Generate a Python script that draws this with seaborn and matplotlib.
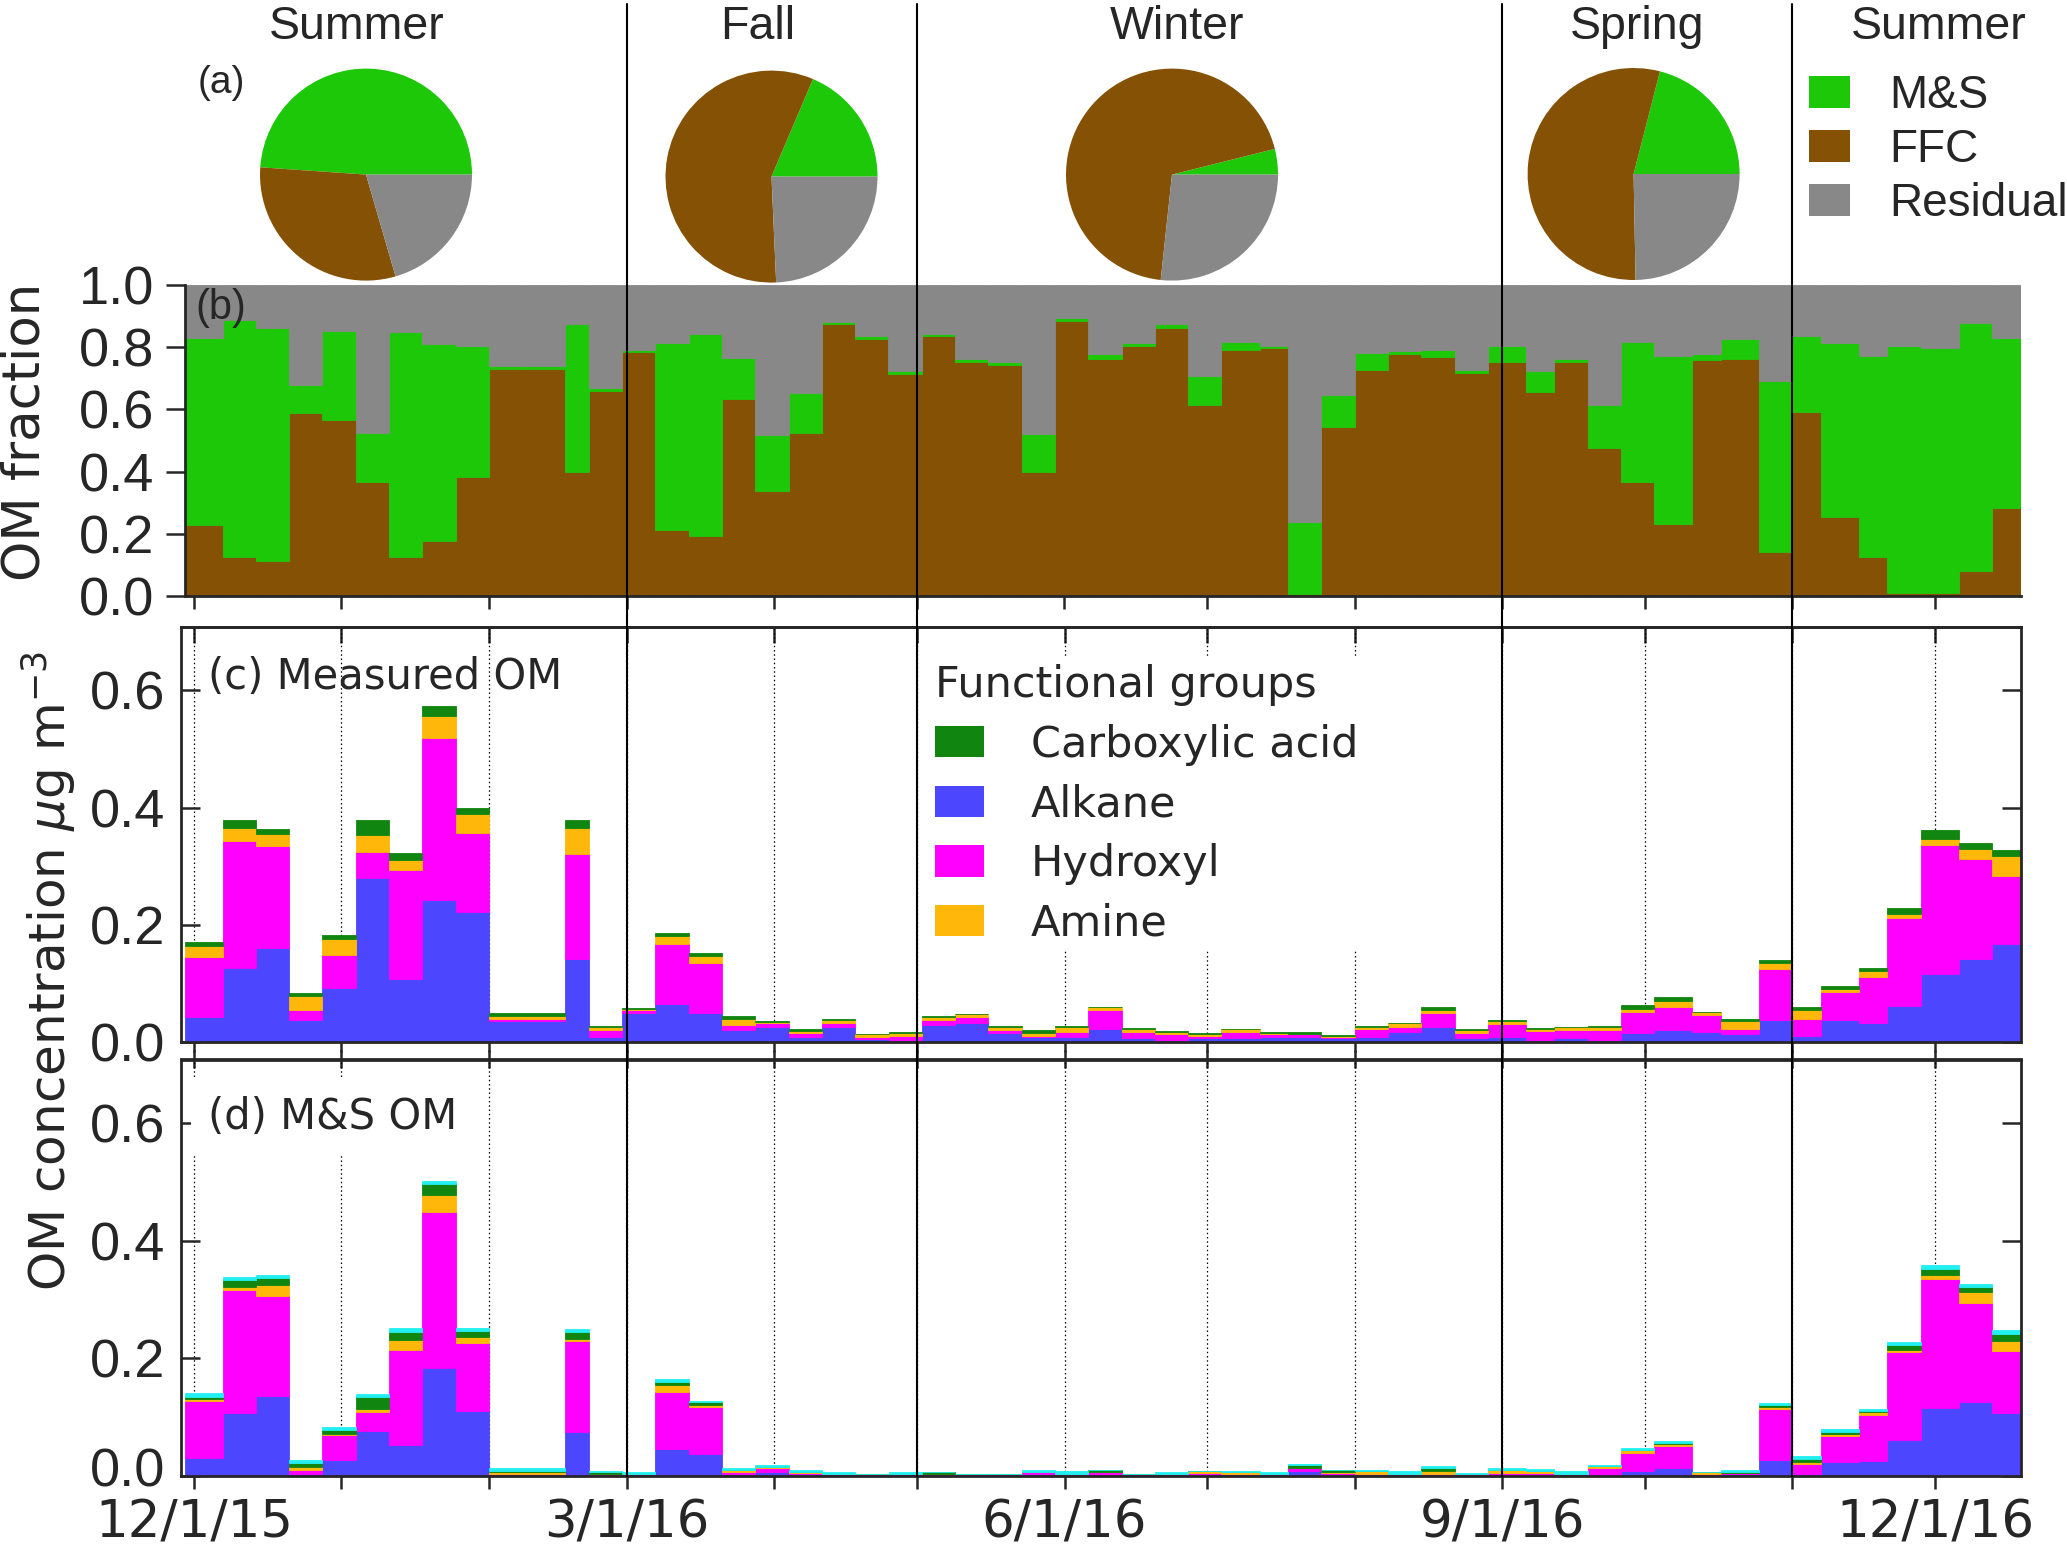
import numpy as np
import pandas as pd
import matplotlib
matplotlib.use("Agg")
import matplotlib.pyplot as plt
import matplotlib.dates as mdates
import matplotlib.transforms as mtransforms
from matplotlib.patches import Patch
from matplotlib.lines import Line2D
import seaborn as sns

# ---------------- data ----------------
sample_start = ['2015-11-29', '2015-12-07', '2015-12-14', '2015-12-21', '2015-12-28',
                '2016-01-04', '2016-01-11', '2016-01-18', '2016-01-25', '2016-02-01',
                '2016-02-09', '2016-02-17', '2016-02-22', '2016-02-29', '2016-03-07',
                '2016-03-14', '2016-03-21', '2016-03-28', '2016-04-04', '2016-04-11',
                '2016-04-18', '2016-04-25', '2016-05-02', '2016-05-09', '2016-05-16',
                '2016-05-23', '2016-05-30', '2016-06-06', '2016-06-13', '2016-06-20',
                '2016-06-27', '2016-07-04', '2016-07-12', '2016-07-18', '2016-07-25',
                '2016-08-01', '2016-08-08', '2016-08-15', '2016-08-22', '2016-08-29',
                '2016-09-06', '2016-09-12', '2016-09-19', '2016-09-26', '2016-10-03',
                '2016-10-11', '2016-10-17', '2016-10-25', '2016-11-01', '2016-11-07',
                '2016-11-15', '2016-11-21', '2016-11-28', '2016-12-06', '2016-12-13']
sample_end_last = '2016-12-19'

# (b) OM fractions
ffc_frac = [0.227, 0.127, 0.114, 0.589, 0.565, 0.367, 0.127, 0.176, 0.382, 0.730,
            0.730, 0.399, 0.659, 0.784, 0.213, 0.192, 0.635, 0.337, 0.525, 0.873,
            0.827, 0.714, 0.835, 0.754, 0.743, 0.400, 0.885, 0.763, 0.803, 0.863,
            0.613, 0.790, 0.796, 0.005, 0.542, 0.727, 0.777, 0.770, 0.716, 0.753,
            0.656, 0.753, 0.475, 0.365, 0.233, 0.759, 0.763, 0.142, 0.592, 0.253,
            0.127, 0.009, 0.009, 0.080, 0.284]
ms_frac = [0.601, 0.759, 0.747, 0.091, 0.288, 0.157, 0.722, 0.633, 0.421, 0.009,
           0.009, 0.477, 0.009, 0.008, 0.600, 0.650, 0.131, 0.181, 0.128, 0.009,
           0.008, 0.009, 0.009, 0.009, 0.010, 0.120, 0.009, 0.015, 0.010, 0.010,
           0.096, 0.026, 0.009, 0.232, 0.104, 0.054, 0.010, 0.022, 0.011, 0.052,
           0.067, 0.009, 0.140, 0.451, 0.540, 0.018, 0.064, 0.550, 0.245, 0.560,
           0.646, 0.796, 0.787, 0.798, 0.545]
res_frac = [0.172, 0.114, 0.139, 0.320, 0.147, 0.476, 0.151, 0.191, 0.197, 0.261,
            0.261, 0.124, 0.332, 0.208, 0.187, 0.158, 0.234, 0.482, 0.347, 0.118,
            0.165, 0.277, 0.156, 0.237, 0.247, 0.480, 0.106, 0.222, 0.187, 0.127,
            0.291, 0.184, 0.195, 0.763, 0.354, 0.219, 0.213, 0.208, 0.273, 0.195,
            0.277, 0.238, 0.385, 0.184, 0.227, 0.223, 0.173, 0.308, 0.163, 0.187,
            0.227, 0.195, 0.204, 0.122, 0.171]

# (c) measured OM functional groups (ug m-3)
c_alkane = [0.042, 0.126, 0.161, 0.038, 0.092, 0.280, 0.107, 0.242, 0.222, 0.036,
            0.036, 0.142, 0.009, 0.050, 0.065, 0.050, 0.021, 0.026, 0.009, 0.025,
            0.005, 0.003, 0.029, 0.033, 0.016, 0.009, 0.009, 0.023, 0.007, 0.004,
            0.006, 0.006, 0.009, 0.009, 0.006, 0.008, 0.017, 0.025, 0.007, 0.009,
            0.004, 0.007, 0.004, 0.016, 0.021, 0.017, 0.013, 0.037, 0.010, 0.037,
            0.032, 0.061, 0.116, 0.141, 0.168]
c_hydroxyl = [0.103, 0.217, 0.173, 0.017, 0.056, 0.044, 0.187, 0.277, 0.135, 0.004,
              0.004, 0.178, 0.012, 0.005, 0.102, 0.085, 0.008, 0.006, 0.007, 0.008,
              0.004, 0.007, 0.009, 0.009, 0.004, 0.002, 0.008, 0.032, 0.010, 0.009,
              0.005, 0.011, 0.004, 0.004, 0.003, 0.014, 0.009, 0.025, 0.009, 0.021,
              0.015, 0.013, 0.017, 0.035, 0.039, 0.029, 0.010, 0.088, 0.029, 0.048,
              0.079, 0.151, 0.220, 0.171, 0.115]
c_amine = [0.018, 0.022, 0.020, 0.024, 0.027, 0.029, 0.017, 0.037, 0.032, 0.005,
           0.005, 0.045, 0.005, 0.002, 0.014, 0.011, 0.011, 0.002, 0.003, 0.005,
           0.004, 0.006, 0.005, 0.005, 0.006, 0.005, 0.009, 0.004, 0.006, 0.004,
           0.003, 0.005, 0.003, 0.001, 0.001, 0.004, 0.006, 0.005, 0.005, 0.006,
           0.004, 0.005, 0.005, 0.006, 0.010, 0.005, 0.013, 0.010, 0.016, 0.006,
           0.010, 0.006, 0.010, 0.018, 0.034]
c_carboxylic = [0.008, 0.014, 0.010, 0.005, 0.008, 0.026, 0.012, 0.017, 0.010, 0.005,
                0.005, 0.014, 0.002, 0.001, 0.005, 0.006, 0.005, 0.002, 0.004, 0.001,
                0.001, 0.001, 0.001, 0.001, 0.001, 0.005, 0.001, 0.001, 0.001, 0.001,
                0.001, 0.001, 0.001, 0.003, 0.002, 0.001, 0.001, 0.004, 0.001, 0.001,
                0.001, 0.001, 0.001, 0.006, 0.006, 0.001, 0.004, 0.005, 0.005, 0.005,
                0.005, 0.010, 0.016, 0.010, 0.010]

# (d) M&S OM functional groups (ug m-3)
d_alkane = [0.030, 0.107, 0.136, 0.004, 0.028, 0.077, 0.052, 0.183, 0.110, 0.000,
            0.000, 0.074, 0.000, 0.000, 0.046, 0.037, 0.004, 0.007, 0.004, 0.000,
            0.000, 0.000, 0.000, 0.000, 0.000, 0.004, 0.000, 0.000, 0.000, 0.000,
            0.000, 0.000, 0.000, 0.008, 0.000, 0.000, 0.000, 0.000, 0.000, 0.000,
            0.000, 0.000, 0.000, 0.008, 0.013, 0.000, 0.004, 0.028, 0.004, 0.023,
            0.025, 0.061, 0.116, 0.125, 0.107]
d_hydroxyl = [0.097, 0.210, 0.170, 0.007, 0.042, 0.031, 0.162, 0.265, 0.116, 0.004,
              0.004, 0.155, 0.004, 0.004, 0.097, 0.081, 0.003, 0.006, 0.001, 0.004,
              0.004, 0.004, 0.004, 0.004, 0.004, 0.002, 0.004, 0.006, 0.004, 0.004,
              0.005, 0.004, 0.004, 0.005, 0.005, 0.004, 0.004, 0.004, 0.004, 0.005,
              0.005, 0.004, 0.013, 0.031, 0.038, 0.004, 0.001, 0.086, 0.017, 0.045,
              0.078, 0.149, 0.219, 0.169, 0.105]
d_amine = [0.004, 0.004, 0.019, 0.004, 0.002, 0.006, 0.017, 0.029, 0.010, 0.002,
           0.002, 0.004, 0.000, 0.000, 0.011, 0.003, 0.003, 0.002, 0.002, 0.000,
           0.000, 0.000, 0.000, 0.000, 0.000, 0.001, 0.000, 0.001, 0.000, 0.000,
           0.003, 0.002, 0.000, 0.001, 0.002, 0.004, 0.000, 0.004, 0.000, 0.005,
           0.004, 0.000, 0.004, 0.005, 0.004, 0.003, 0.000, 0.004, 0.003, 0.004,
           0.005, 0.005, 0.006, 0.018, 0.017]
d_carboxylic = [0.004, 0.013, 0.011, 0.007, 0.006, 0.020, 0.014, 0.019, 0.010, 0.003,
                0.003, 0.012, 0.003, 0.000, 0.005, 0.004, 0.000, 0.000, 0.000, 0.000,
                0.000, 0.000, 0.002, 0.000, 0.000, 0.000, 0.000, 0.003, 0.000, 0.000,
                0.000, 0.000, 0.000, 0.004, 0.003, 0.000, 0.000, 0.005, 0.000, 0.000,
                0.000, 0.000, 0.000, 0.001, 0.001, 0.000, 0.002, 0.002, 0.005, 0.003,
                0.002, 0.007, 0.011, 0.009, 0.013]
d_other = [0.006, 0.004, 0.005, 0.006, 0.006, 0.006, 0.006, 0.006, 0.006, 0.005,
           0.005, 0.005, 0.002, 0.003, 0.006, 0.003, 0.004, 0.003, 0.003, 0.002,
           0.000, 0.002, 0.000, 0.000, 0.000, 0.003, 0.004, 0.000, 0.000, 0.002,
           0.000, 0.002, 0.002, 0.003, 0.000, 0.003, 0.005, 0.004, 0.001, 0.004,
           0.003, 0.005, 0.002, 0.003, 0.004, 0.000, 0.004, 0.004, 0.005, 0.005,
           0.004, 0.006, 0.006, 0.006, 0.006]

# (a) seasonal pies
pie_seasons = ['Summer', 'Fall', 'Winter', 'Spring']
pie_ms = [0.489, 0.186, 0.039, 0.210]
pie_ffc = [0.306, 0.571, 0.694, 0.543]
pie_res = [0.205, 0.243, 0.267, 0.247]

season_labels = ['Summer', 'Fall', 'Winter', 'Spring', 'Summer']
season_bounds = ['2016-03-01', '2016-05-01', '2016-09-01', '2016-11-01']

source_labels = ['M&S', 'FFC', 'Residual']
group_labels = ['Carboxylic acid', 'Alkane', 'Hydroxyl', 'Amine']

tick_label_dates = ['2015-12-01', '2016-03-01', '2016-06-01', '2016-09-01', '2016-12-01']
tick_labels = ['12/1/15', '3/1/16', '6/1/16', '9/1/16', '12/1/16']
frac_ticks = [0.0, 0.2, 0.4, 0.6, 0.8, 1.0]
frac_tick_labels = ['0.0', '0.2', '0.4', '0.6', '0.8', '1.0']
conc_ticks = [0.0, 0.2, 0.4, 0.6]
conc_tick_labels = ['0.0', '0.2', '0.4', '0.6']

# ---------------- style ----------------
sns.set_style("ticks")
plt.rcParams['font.family'] = ['Liberation Sans', 'DejaVu Sans']
plt.rcParams['mathtext.fontset'] = 'dejavusans'

GREEN = '#1cc808'
BROWN = '#855205'
GRAY = '#888888'
C_CARB = '#108610'
C_ALK = '#4c46ff'
C_HYD = '#ff00ff'
C_AMI = '#ffb80a'
C_OTH = '#22f0f0'

W, H = 2067, 1552
fig = plt.figure(figsize=(W / 100, H / 100), dpi=100)


def frame(l, t, r, b):
    return [l / W, 1 - b / H, (r - l) / W, (b - t) / H]


ax_b = fig.add_axes(frame(184.5, 285, 2020.6, 596))
ax_c = fig.add_axes(frame(181, 627, 2021, 1042))
ax_d = fig.add_axes(frame(181, 1059.5, 2021, 1476))

x0 = mdates.date2num(pd.to_datetime(sample_start))
x_end = np.append(x0[1:], mdates.date2num(pd.Timestamp(sample_end_last)))
widths = x_end - x0
n = len(x0)

month_ticks = mdates.date2num(pd.date_range('2015-12-01', '2016-12-01', freq='MS'))
lab_map = {float(mdates.date2num(pd.Timestamp(d))): s for d, s in zip(tick_label_dates, tick_labels)}
month_labels = [lab_map.get(float(m), '') for m in month_ticks]


def stack(ax, comps, cols):
    bottom = np.zeros(n)
    for vals, col in zip(comps, cols):
        vals = np.asarray(vals, dtype=float)
        ax.bar(x0, vals, width=widths, bottom=bottom, align='edge', color=col,
               edgecolor=col, linewidth=0.6, zorder=2)
        bottom = bottom + vals


# ---------------- (b) ----------------
stack(ax_b, [ffc_frac, ms_frac, res_frac], [BROWN, GREEN, GRAY])
ax_b.set_xlim(x0[0], x_end[-1])
ax_b.set_ylim(0, 1.0)
ax_b.set_yticks(frac_ticks)
ax_b.set_yticklabels(frac_tick_labels)
ax_b.set_xticks(month_ticks)
ax_b.set_xticklabels([])
sns.despine(ax=ax_b, top=True, right=True)
for s in ['left', 'bottom']:
    ax_b.spines[s].set_linewidth(2.0)
ax_b.tick_params(axis='y', direction='out', length=14, width=1.8, labelsize=39, pad=8)
ax_b.tick_params(axis='x', direction='out', length=9, width=1.8)
ax_b.text(0.006, 0.925, '(b)', transform=ax_b.transAxes, fontsize=30, ha='left', va='center')
fig.text(26 / W, 1 - 432 / H, 'OM fraction', rotation=90, ha='center', va='center',
         fontsize=37, family='DejaVu Sans')

# ---------------- (c) and (d) ----------------
dx_left = (184.5 - 181) / ((2020.6 - 184.5) / (x_end[-1] - x0[0]))
for ax in (ax_c, ax_d):
    ax.set_xlim(x0[0] - dx_left, x_end[-1] + 0.08)
    ax.set_ylim(0, 0.708)
    ax.set_yticks(conc_ticks)
    ax.set_yticklabels(conc_tick_labels)
    ax.set_xticks(month_ticks)
    ax.set_axisbelow(True)
    ax.grid(axis='x', which='major', color='black', linestyle=(0, (1.2, 2.2)), linewidth=0.9)
    ax.grid(axis='y', visible=False)
    for s in ax.spines.values():
        s.set_visible(True)
        s.set_linewidth(2.0)
    ax.tick_params(axis='y', direction='in', left=True, right=True, length=14, width=1.8,
                   labelsize=39, pad=11.5)

stack(ax_c, [c_alkane, c_hydroxyl, c_amine, c_carboxylic], [C_ALK, C_HYD, C_AMI, C_CARB])
stack(ax_d, [d_alkane, d_hydroxyl, d_amine, d_carboxylic, d_other],
      [C_ALK, C_HYD, C_AMI, C_CARB, C_OTH])

ax_c.set_xticklabels([])
ax_c.tick_params(axis='x', direction='out', length=7, width=1.8, top=False)
sec_c = ax_c.secondary_xaxis('top')
sec_c.set_xticks(month_ticks)
sec_c.set_xticklabels([])
sec_c.tick_params(direction='in', length=11.5, width=1.8)
sec_c.spines['top'].set_linewidth(2.0)

ax_d.set_xticklabels(month_labels, family='DejaVu Sans')
ax_d.tick_params(axis='x', direction='out', length=9.5, width=1.8, labelsize=37, pad=6.5, top=False)
sec_d = ax_d.secondary_xaxis('top')
sec_d.set_xticks(month_ticks)
sec_d.set_xticklabels([])
sec_d.tick_params(direction='inout', length=13, width=1.8)
sec_d.spines['top'].set_linewidth(2.0)

# nudge the bottom "0.0" of (d) slightly up so it clears the first date label
zero_tick = ax_d.yaxis.get_major_ticks()[0]
zero_tick.label1.set_transform(zero_tick.label1.get_transform() +
                               mtransforms.ScaledTranslation(0, 0.09, fig.dpi_scale_trans))

ax_c.text(0.0145, 0.8795, '(c) Measured OM', transform=ax_c.transAxes, fontsize=30,
          family='DejaVu Sans', ha='left', va='center', zorder=5)
ax_d.text(0.0145, 0.862, '(d) M&S OM', transform=ax_d.transAxes, fontsize=30,
          family='DejaVu Sans', ha='left', va='center', zorder=5,
          bbox=dict(facecolor='white', edgecolor='none', pad=12))

fig.text(49 / W, 1 - 971.5 / H, 'OM concentration $\\mu$g m$^{-3}$', rotation=90,
         ha='center', va='center', fontsize=36, family='DejaVu Sans')

group_cols = [C_CARB, C_ALK, C_HYD, C_AMI]
leg_c = ax_c.legend(handles=[Patch(facecolor=c, edgecolor='none') for c in group_cols],
                    labels=group_labels, title='Functional groups', loc='upper left',
                    bbox_to_anchor=(929 / W, 1 - 658 / H), bbox_transform=fig.transFigure,
                    fontsize=31, title_fontsize=31, frameon=True, framealpha=1,
                    facecolor='white', edgecolor='none', fancybox=False,
                    borderpad=0.14, borderaxespad=0, handlelength=1.14, handleheight=0.74,
                    handletextpad=1.09, labelspacing=0.41, alignment='left',
                    prop={'family': 'DejaVu Sans', 'size': 31})
leg_c.get_title().set_family('DejaVu Sans')
leg_c.set_zorder(6)

# ---------------- (a) pies ----------------
pie_centers = [(366, 174.6), (771.5, 176.6), (1172, 174.6), (1633.6, 174.0)]
r = 106
for i, (cx, cy) in enumerate(pie_centers):
    axp = fig.add_axes([(cx - r) / W, 1 - (cy + r) / H, 2 * r / W, 2 * r / H])
    axp.pie([pie_ms[i], pie_ffc[i], pie_res[i]], colors=[GREEN, BROWN, GRAY],
            startangle=0, counterclock=True, wedgeprops=dict(linewidth=0))
    axp.set_xlim(-1.0, 1.0)
    axp.set_ylim(-1.0, 1.0)
    axp.set_aspect('equal')
    axp.axis('off')

fig.text(198 / W, 1 - 83 / H, '(a)', fontsize=28, ha='left', va='center')

season_x = [357, 758, 1177, 1637, 1939]
for sx, lab in zip(season_x, season_labels):
    fig.text(sx / W, 1 - 39 / H, lab, fontsize=33.5, ha='center', va='baseline')

fig.legend(handles=[Patch(facecolor=c, edgecolor='none') for c in [GREEN, BROWN, GRAY]],
           labels=source_labels, loc='upper left', bbox_to_anchor=(1809 / W, 1 - 74 / H),
           frameon=False, fontsize=33, borderpad=0, borderaxespad=0,
           handlelength=0.9, handleheight=0.7, handletextpad=0.85, labelspacing=0.22)

# ---------------- season boundary lines ----------------
trans = mtransforms.blended_transform_factory(ax_b.transData, fig.transFigure)
for d in season_bounds:
    xd = mdates.date2num(pd.Timestamp(d))
    fig.add_artist(Line2D([xd, xd], [1 - 4 / H, 1 - 1476 / H], transform=trans,
                          color='black', linewidth=1.5, zorder=4))

fig.savefig('out.png', dpi=100)
